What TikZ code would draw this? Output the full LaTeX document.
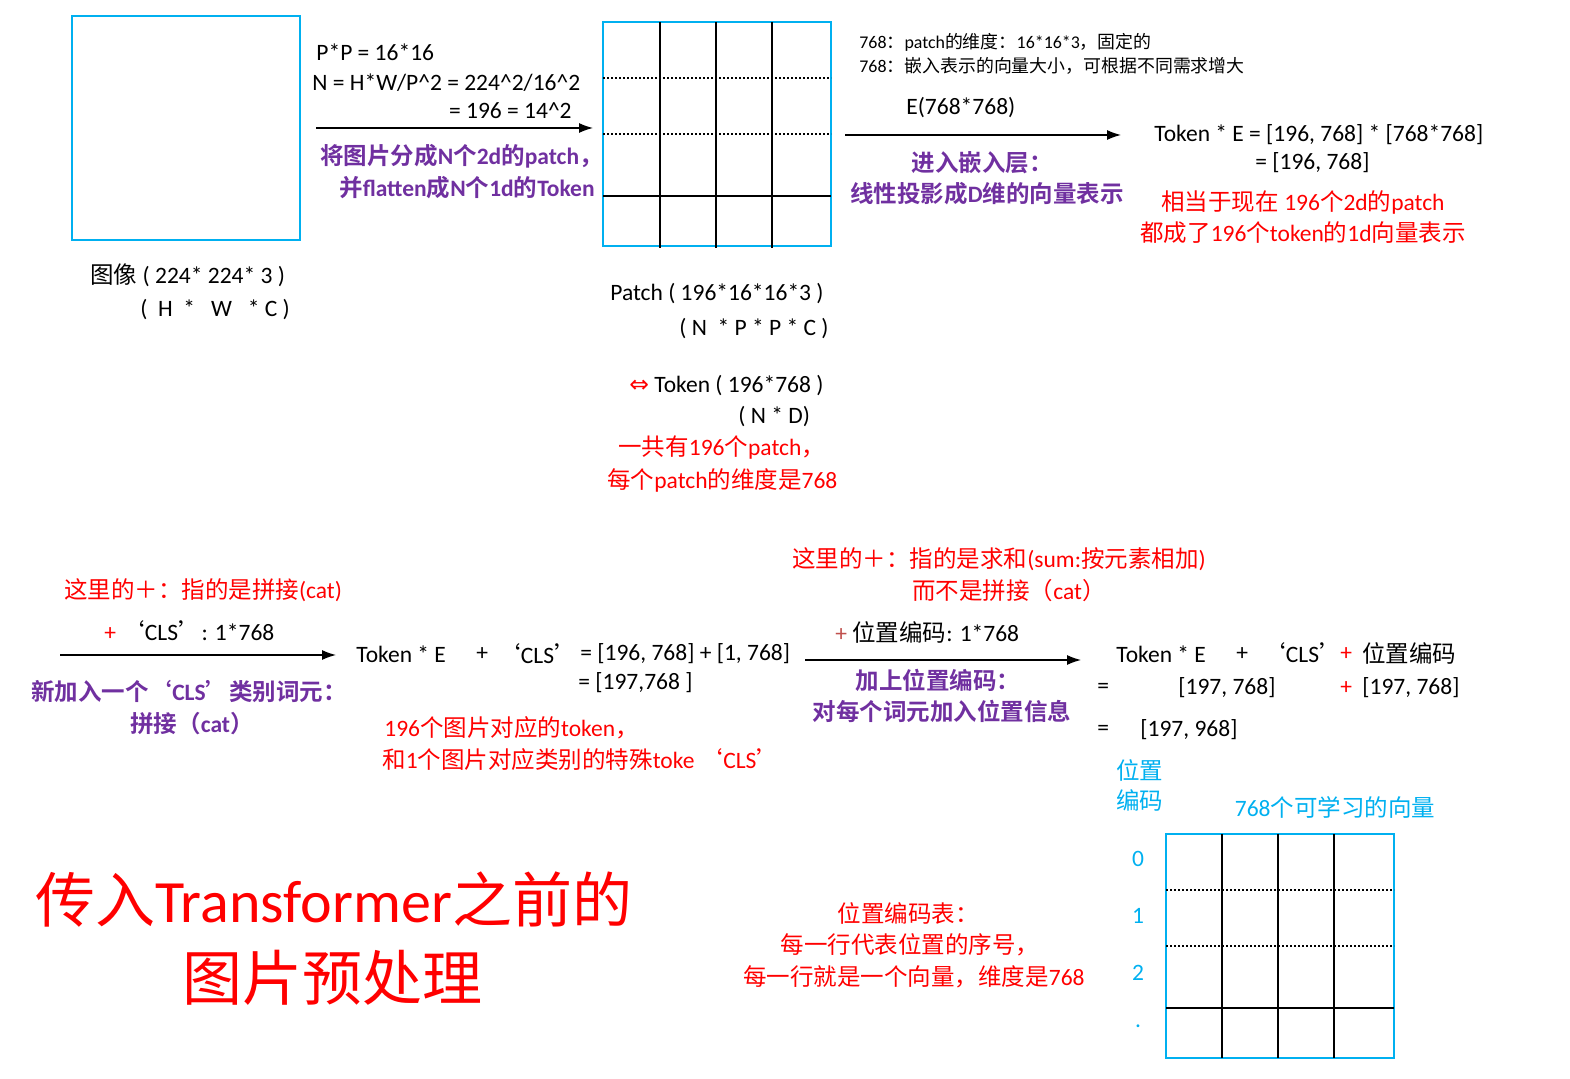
\documentclass[tikz,border=0pt]{standalone}
\usepackage{fontspec}
\usetikzlibrary{arrows.meta}
\setmainfont{Carlito}
\newfontfamily\cjkfam{Noto Sans CJK SC}[BoldFont={Noto Sans CJK SC Bold}]
\newfontfamily\symfam{DejaVu Sans}
\XeTeXinterchartokenstate=1
\newXeTeXintercharclass\CJKcls
\makeatletter
\def\setcjkrange#1#2{\count@=#1\relax\loop\XeTeXcharclass\count@=\CJKcls\ifnum\count@<#2\relax\advance\count@ by 1\repeat}
\makeatother
\setcjkrange{"4E00}{"9FFF}
\setcjkrange{"3000}{"303F}
\setcjkrange{"FF00}{"FFEF}
\XeTeXcharclass"2018=\CJKcls
\XeTeXcharclass"2019=\CJKcls
\XeTeXinterchartoks 0 \CJKcls = {\cjkfam}
\XeTeXinterchartoks 4095 \CJKcls = {\cjkfam}
\XeTeXinterchartoks \CJKcls 0 = {\rmfamily}
\XeTeXinterchartoks \CJKcls 4095 = {\rmfamily}
\definecolor{boxblue}{RGB}{0,176,240}
\definecolor{purp}{RGB}{112,48,160}
\definecolor{dred}{RGB}{192,80,77}
\newcommand{\fsn}{\fontsize{11.75}{14}\selectfont}
\newcommand{\fss}{\fontsize{8.95}{11}\selectfont}
\newcommand{\fsb}{\fontsize{30}{35}\selectfont}
\tikzset{
  t/.style={inner sep=0pt, font=\fsn},
  ts/.style={inner sep=0pt, font=\fss},
  pur/.style={inner sep=0pt, font=\fsn\bfseries, text=purp},
  rd/.style={inner sep=0pt, font=\fsn, text=red},
  cy/.style={inner sep=0pt, font=\fsn, text=boxblue},
  bluebox/.style={draw=boxblue, line width=1pt, inner sep=0pt, minimum width=114pt, minimum height=112pt},
  gl/.style={line width=0.6pt},
  gd/.style={line width=0.7pt, dash pattern=on 1.2pt off 0.8pt},
  arr/.style={line width=0.6pt, -{Latex[length=7pt,width=5pt]}}
}
\begin{document}
\begin{tikzpicture}[x=0.5pt,y=-0.5pt]
\path[use as bounding box] (0,0) rectangle (1570,1079);
% ---------- image ----------
\node[bluebox] (img) at (186,128) {};
\node[t,anchor=west] (imglab1) at (90,275) {图像 ( 224* 224* 3 )};
\node[t,anchor=west] (imglab2) at (140,310) {(\ \ H\ \ *\ \ \ W\ \ \ * C )};
% ---------- split ----------
\node[t,anchor=west] (pp) at (316,52) {P*P = 16*16};
\node[t,anchor=west] (nn) at (312,83) {N = H*W/P\textasciicircum 2 = 224\textasciicircum 2/16\textasciicircum 2};
\node[t,anchor=east] (nn2) at (572,111) {= 196 = 14\textasciicircum 2};
\coordinate (a1s) at (316,128);
\coordinate (a1e) at (593,128);
\draw[arr] (a1s) -- (a1e);
\node[pur,anchor=east] (split1) at (603,156) {将图片分成N个2d的patch，};
\node[pur,anchor=east] (split2) at (595,188) {并flatten成N个1d的Token};
% ---------- grid 1 ----------
\node[bluebox] (g1) at (717,134) {};
\foreach \x in {660,716,772} \draw[gl] (\x,22) -- (\x,248);
\foreach \y in {78,134} \draw[gd] (603,\y) -- (831,\y);
\draw[gl] (603,196) -- (831,196);
\node[t,anchor=west] (pt1) at (610,294) {Patch ( 196*16*16*3 )};
\node[t,anchor=west] (pt2) at (679,329) {( N\ \ * P * P * C )};
\node[t,anchor=west] (tk1) at (629,386) {{\color{red}\symfam ⇔} Token ( 196*768 )};
\node[t,anchor=west] (tk2) at (738,417) {( N * D)};
\node[rd,anchor=west] (cnt1) at (618,448) {一共有196个patch，};
\node[rd,anchor=west] (cnt2) at (607,480) {每个patch的维度是768};
% ---------- embedding ----------
\node[ts,anchor=west] (d1) at (859,42) {768：patch的维度：16*16*3，固定的};
\node[ts,anchor=west] (d2) at (859,66) {768：嵌入表示的向量大小，可根据不同需求增大};
\node[t,anchor=west] (emb) at (906,108) {E(768*768)};
\coordinate (a2s) at (845,135);
\coordinate (a2e) at (1121,135);
\draw[arr] (a2s) -- (a2e);
\node[pur] (embl1) at (982,163) {进入嵌入层：};
\node[pur] (embl2) at (987,194) {线性投影成D维的向量表示};
\node[t,anchor=west] (tok1) at (1154,135) {Token * E = [196, 768] * [768*768]};
\node[t,anchor=west] (tok2) at (1255,163) {= [196, 768]};
\node[rd] (rel1) at (1303,202) {相当于现在 196个2d的patch};
\node[rd] (rel2) at (1303,233) {都成了196个token的1d向量表示};
% ---------- CLS ----------
\node[rd] (cat1) at (203,590) {这里的＋：指的是拼接(cat)};
\node[t,anchor=west] (cls) at (104,631) {{\color{red}+}\ ‘CLS’: 1*768};
\coordinate (a3s) at (60,655);
\coordinate (a3e) at (336,655);
\draw[arr] (a3s) -- (a3e);
\node[pur] (newcls1) at (189,692) {新加入一个‘CLS’类别词元：};
\node[pur] (newcls2) at (192,724) {拼接（cat）};
\node[t,anchor=west] (s1a) at (356,654) {Token * E};
\node[t,anchor=west] (s1b) at (476,654) {+};
\node[t,anchor=west] (s1c) at (497,654) {‘CLS’};
\node[t,anchor=west] (s1d) at (580,654) {= [196, 768] + [1, 768]};
\node[t,anchor=west] (sum2) at (578,683) {= [197,768 ]};
\node[rd,anchor=west] (exp1) at (384,728) {196个图片对应的token，};
\node[rd,anchor=west] (exp2) at (382,760) {和1个图片对应类别的特殊toke ‘CLS’};
% ---------- position ----------
\node[rd] (sumr1) at (999,559) {这里的＋：指的是求和(sum:按元素相加)};
\node[rd] (sumr2) at (1009,591) {而不是拼接（cat）};
\node[t,anchor=west] (pos) at (835,632) {{\color{dred}+}\ 位置编码: 1*768};
\coordinate (a4s) at (805,660);
\coordinate (a4e) at (1081,660);
\draw[arr] (a4s) -- (a4e);
\node[pur] (posl1) at (938,680) {加上位置编码：};
\node[pur] (posl2) at (942,711) {对每个词元加入位置信息};
\node[t,anchor=west] (r1a) at (1116,654) {Token * E};
\node[t,anchor=west] (r1b) at (1236,654) {+};
\node[t,anchor=west] (r1c) at (1262,653) {‘CLS’};
\node[t,anchor=west,text=red] (r1d) at (1340,654) {+};
\node[t,anchor=west] (r1e) at (1362,653) {位置编码};
\node[t,anchor=west] (r2a) at (1097,688) {=};
\node[t,anchor=west] (r2b) at (1178,688) {[197, 768]};
\node[t,anchor=west,text=red] (r2c) at (1340,688) {+};
\node[t,anchor=west] (r2d) at (1362,688) {[197, 768]};
\node[t,anchor=west] (r3a) at (1097,730) {=};
\node[t,anchor=west] (r3b) at (1140,730) {[197, 968]};
\node[cy,anchor=west] (pe1) at (1116,770) {位置};
\node[cy,anchor=west] (pe2) at (1116,800) {编码};
\node[cy] (vec) at (1335,807) {768个可学习的向量};
% ---------- grid 2 ----------
\node[bluebox] (g2) at (1280,946) {};
\foreach \x in {1222,1278,1334} \draw[gl] (\x,834) -- (\x,1058);
\foreach \y in {890,946} \draw[gd] (1166,\y) -- (1394,\y);
\draw[gl] (1166,1008) -- (1394,1008);
\node[cy] (n0) at (1138,859) {0};
\node[cy] (n1) at (1138,916) {1};
\node[cy] (n2) at (1138,973) {2};
\node[cy] (n3) at (1138,1026) {.};
\node[rd] (tab1) at (908,913) {位置编码表：};
\node[rd] (tab2) at (910,945) {每一行代表位置的序号，};
\node[rd] (tab3) at (914,977) {每一行就是一个向量，维度是768};
% ---------- title ----------
\node[inner sep=0pt,font=\fsb,text=red,anchor=west] (title1) at (35,900) {传入Transformer之前的};
\node[inner sep=0pt,font=\fsb,text=red] (title2) at (332,978) {图片预处理};
\end{tikzpicture}
\end{document}
